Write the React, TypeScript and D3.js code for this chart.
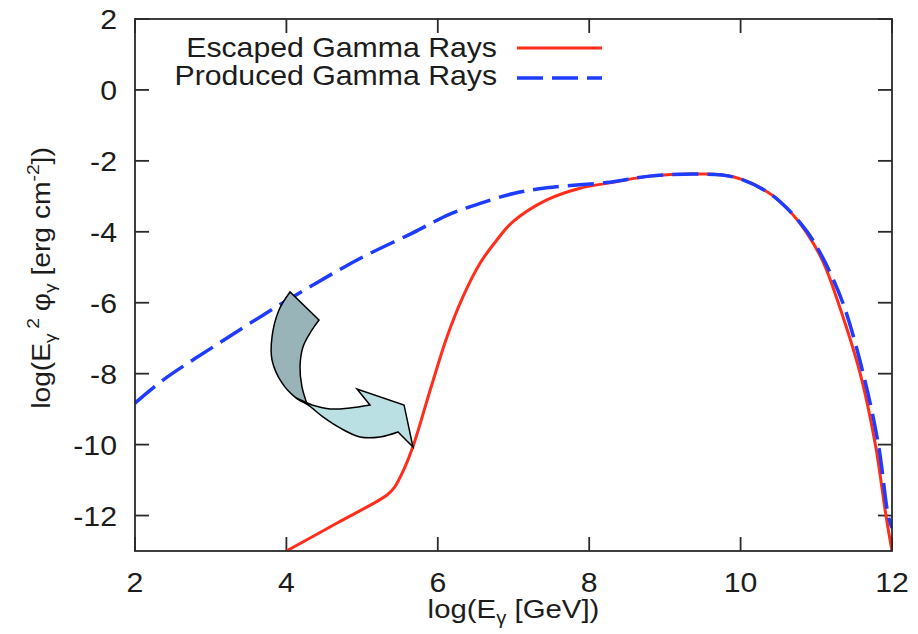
import React from "react";
import * as d3 from "d3";

// log(E) in GeV
const escapedX = [4.0, 4.67, 5.33, 5.43, 5.55, 5.67, 5.9, 6.12, 6.33, 6.56, 6.78, 6.99, 7.44, 7.88, 8.27, 8.8, 9.46, 9.9, 10.35, 10.61, 10.88, 11.09, 11.29, 11.58, 11.78, 11.92, 12.0];
const escapedY = [-13.0, -12.21, -11.42, -11.2, -10.71, -10.07, -8.46, -6.97, -5.84, -4.88, -4.23, -3.72, -3.1, -2.77, -2.62, -2.43, -2.37, -2.45, -2.87, -3.33, -4.05, -4.85, -6.0, -8.0, -10.0, -12.0, -13.0];

const producedX = [2.0, 2.37, 3.03, 3.69, 4.35, 5.01, 5.67, 6.16, 6.56, 7.0, 7.44, 8.27, 8.8, 9.46, 9.9, 10.35, 10.61, 10.88, 11.09, 11.35, 11.62, 11.82, 11.95, 12.0];
const producedY = [-8.83, -8.18, -7.25, -6.35, -5.5, -4.71, -4.03, -3.5, -3.2, -2.92, -2.76, -2.6, -2.43, -2.37, -2.45, -2.87, -3.33, -4.0, -4.75, -6.0, -8.0, -10.0, -12.0, -12.35];

const xTicks = [2, 4, 6, 8, 10, 12];
const yTicks = [2, 0, -2, -4, -6, -8, -10, -12];

const seriesNames = ["Escaped Gamma Rays", "Produced Gamma Rays"];

// curved block arrow pointing at the onset of the escaped spectrum (data units)
const arrowBackOuter: [number, number][] = [[4.048, -5.697], [3.902, -6.204], [3.81, -6.965], [3.81, -7.614], [3.942, -8.262], [4.127, -8.685], [4.272, -8.854]];
const arrowBackInner: [number, number][] = [[4.272, -8.854], [4.206, -8.375], [4.18, -7.811], [4.219, -7.247], [4.338, -6.768], [4.431, -6.486]];
const arrowFrontOuter: [number, number][] = [[4.127, -8.685], [4.285, -8.882], [4.483, -9.22], [4.708, -9.531], [4.972, -9.785], [5.236, -9.785], [5.474, -9.644]];
const arrowHead: [number, number][] = [[5.474, -9.644], [5.672, -10.067], [5.554, -8.882], [4.933, -8.431], [5.104, -8.882]];
const arrowFrontInner: [number, number][] = [[5.104, -8.882], [4.84, -8.967], [4.576, -8.995], [4.338, -8.882]];

const W = 918;
const H = 634;
const left = 135, right = 892, top = 19, bottom = 551;

const FONT = "'Liberation Sans', Arial, Helvetica, sans-serif";
const INK = "#1c1c1c";
const RED = "#ff2d1a";
const BLUE = "#1e3cff";

function T(props: {
  x: number; y: number; anchor?: string; size: number; sx?: number; rotate?: boolean; children: React.ReactNode;
}) {
  const { x, y, anchor = "start", size, sx = 1.08, rotate = false, children } = props;
  return (
    <g transform={`translate(${x},${y})${rotate ? " rotate(-90)" : ""} scale(${sx},1)`}>
      <text textAnchor={anchor as any} fontSize={size} fontFamily={FONT} fill={INK}>
        {children}
      </text>
    </g>
  );
}

export default function App() {
  const x = d3.scaleLinear().domain([2, 12]).range([left, right]);
  const y = d3.scaleLinear().domain([-13, 2]).range([bottom, top]);

  const line = d3
    .line<[number, number]>()
    .x((d) => x(d[0]))
    .y((d) => y(d[1]))
    .curve(d3.curveCatmullRom.alpha(0.5));

  const escaped = line(escapedX.map((v, i) => [v, escapedY[i]] as [number, number])) || "";
  const produced = line(producedX.map((v, i) => [v, producedY[i]] as [number, number])) || "";

  const toPx = (p: [number, number]): [number, number] => [x(p[0]), y(p[1])];
  const smooth = d3.line<[number, number]>().curve(d3.curveCatmullRom.alpha(0.5));
  const straight = d3.line<[number, number]>();
  const joinPath = (parts: { pts: [number, number][]; curved: boolean }[]) =>
    parts
      .map((p, i) => {
        const s = (p.curved ? smooth : straight)(p.pts.map(toPx)) || "";
        return i === 0 ? s : "L" + s.slice(1);
      })
      .join("") + "Z";

  const arrowBack = joinPath([
    { pts: arrowBackOuter, curved: true },
    { pts: arrowBackInner, curved: true },
  ]);
  const arrowFront = joinPath([
    { pts: arrowFrontOuter, curved: true },
    { pts: arrowHead, curved: false },
    { pts: arrowFrontInner, curved: true },
  ]);

  const tickLen = 14;

  return (
    <svg width={W} height={H} style={{ position: "absolute", left: 0, top: 0, background: "#fff" }}>
      <defs>
        <clipPath id="plot-area">
          <rect x={left} y={top} width={right - left} height={bottom - top} />
        </clipPath>
      </defs>
      <rect x={0} y={0} width={W} height={H} fill="#fff" />

      {/* ticks on all four sides, pointing inward */}
      <g stroke="#2a2a2a" strokeWidth={1.8}>
        {xTicks.map((t) => (
          <g key={"xt" + t}>
            <line x1={x(t)} x2={x(t)} y1={bottom} y2={bottom - tickLen} />
            <line x1={x(t)} x2={x(t)} y1={top} y2={top + tickLen} />
          </g>
        ))}
        {yTicks.map((t) => (
          <g key={"yt" + t}>
            <line x1={left} x2={left + tickLen} y1={y(t)} y2={y(t)} />
            <line x1={right} x2={right - tickLen} y1={y(t)} y2={y(t)} />
          </g>
        ))}
      </g>

      {/* tick labels */}
      {xTicks.map((t) => (
        <T key={"xl" + t} x={x(t)} y={592} anchor="middle" size={28}>
          {String(t)}
        </T>
      ))}
      {yTicks.map((t) => (
        <T key={"yl" + t} x={117} y={y(t) + 10} anchor="end" size={28}>
          {String(t)}
        </T>
      ))}

      {/* axis titles */}
      <T x={(left + right) / 2} y={618} anchor="middle" size={26} sx={1.13}>
        log(E
        <tspan fontSize={18} dy={6}>γ</tspan>
        <tspan dy={-6}> [GeV])</tspan>
      </T>
      <T x={50} y={278} anchor="middle" size={25} sx={1.13} rotate>
        log(E
        <tspan fontSize={17} dy={6}>γ</tspan>
        <tspan fontSize={17} dx={4} dy={-17}>2</tspan>
        <tspan dx={6} dy={11}>φ</tspan>
        <tspan fontSize={17} dy={6}>γ</tspan>
        <tspan dy={-6}> [erg cm</tspan>
        <tspan fontSize={17} dy={-11}>-2</tspan>
        <tspan dy={11}>])</tspan>
      </T>

      {/* curves */}
      <g clipPath="url(#plot-area)" fill="none">
        <path d={escaped} stroke={RED} strokeWidth={3} strokeLinejoin="round" />
        <path d={produced} stroke={BLUE} strokeWidth={3.5} strokeDasharray="26,9" />
      </g>

      {/* annotation arrow */}
      <path d={arrowBack} fill="#98b4b8" stroke="#000" strokeWidth={1.5} strokeLinejoin="miter" />
      <path d={arrowFront} fill="#bae0e3" stroke="#000" strokeWidth={1.5} strokeLinejoin="miter" />

      {/* legend */}
      <T x={497} y={57} anchor="end" size={28}>{seriesNames[0]}</T>
      <T x={497} y={85} anchor="end" size={28}>{seriesNames[1]}</T>
      <line x1={517} x2={602} y1={48} y2={48} stroke={RED} strokeWidth={3} />
      <line x1={517} x2={602} y1={78} y2={78} stroke={BLUE} strokeWidth={3.5} strokeDasharray="26,9" />

      {/* frame */}
      <rect x={left} y={top} width={right - left} height={bottom - top} fill="none" stroke="#2a2a2a" strokeWidth={1.8} />
    </svg>
  );
}
